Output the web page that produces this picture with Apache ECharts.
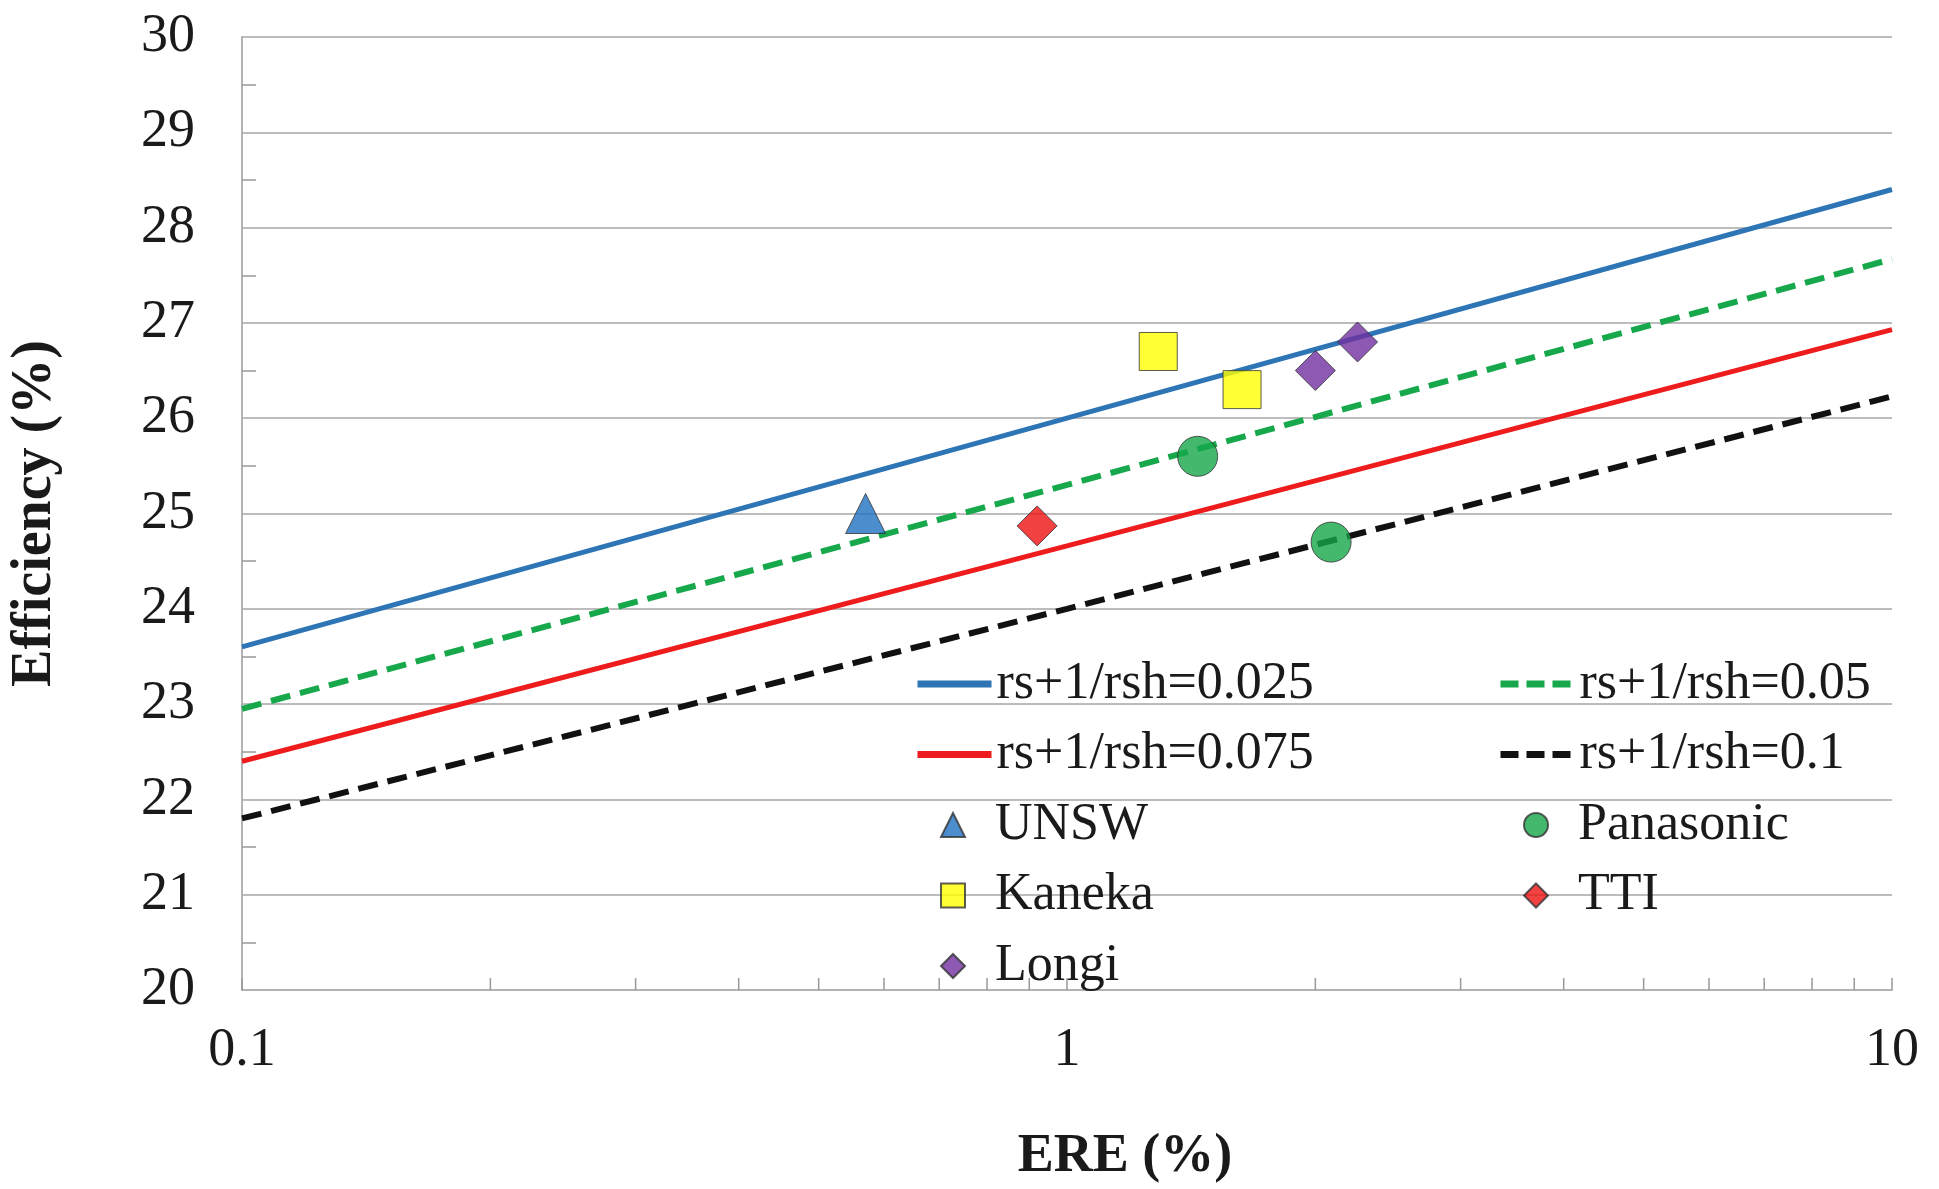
<!DOCTYPE html>
<html>
<head>
<meta charset="utf-8">
<title>Efficiency vs ERE</title>
<script src="https://cdn.jsdelivr.net/npm/echarts@6/dist/echarts.min.js"></script>
<style>
  html, body { margin: 0; padding: 0; background: #ffffff; }
  #chart { width: 1939px; height: 1189px; }
</style>
</head>
<body>
<div id="chart"></div>
<script>
// Modelled efficiency curves, sampled on the ERE grid (log scale)
const ereGrid = [0.1, 1, 10];
const eff025 = [23.6, 26.0, 28.4];
const eff050 = [22.95, 25.3, 27.67];
const eff075 = [22.4, 24.66, 26.93];
const eff100 = [21.8, 24.0, 26.23];

// Measured cells: [ERE %, efficiency %]
const unswERE = [0.57];         const unswEff = [25.0];
const kanekaERE = [1.29, 1.63]; const kanekaEff = [26.7, 26.3];
const longiERE = [2.0, 2.25];   const longiEff = [26.5, 26.8];
const panaERE = [1.44, 2.09];   const panaEff = [25.6, 24.7];
const ttiERE = [0.92];          const ttiEff = [24.87];

// Minor tick positions on the log ERE axis
const ereMinorTicks = [0.2, 0.3, 0.4, 0.5, 0.6, 0.7, 0.8, 0.9, 2, 3, 4, 5, 6, 7, 8, 9];

const FONT = 'Liberation Serif, Times New Roman, serif';
const zip = (xs, ys) => xs.map((x, i) => [x, ys[i]]);

const curve = (name, ys, color, width, dashed) => ({
  name, type: 'line', data: zip(ereGrid, ys), symbol: 'none', z: 3,
  lineStyle: { color, width, type: dashed ? [20, 10] : 'solid' },
  itemStyle: { color }
});
const points = (name, xs, ys, symbol, size, color) => ({
  name, type: 'scatter', data: zip(xs, ys), symbol, symbolSize: size, z: 5,
  itemStyle: { color, borderColor: '#333', borderWidth: 1 }
});

// legend entry for a curve: line only, no point symbol
const lineEntry = (name, dashed) => ({
  name, itemStyle: { opacity: 0 },
  lineStyle: { width: 7, type: dashed ? [18, 8] : 'solid', cap: 'butt' }
});

const legendText = { fontFamily: FONT, fontSize: 52, color: '#1a1a1a', lineHeight: 56 };
const markerText = Object.assign({}, legendText, { padding: [0, 0, 0, 25] });

const chart = echarts.init(document.getElementById('chart'), null, { renderer: 'canvas' });
chart.setOption({
  backgroundColor: '#ffffff',
  animation: false,
  textStyle: { fontFamily: FONT },
  grid: { left: 242, right: 47, top: 37, bottom: 199 },
  xAxis: {
    type: 'log', logBase: 10, min: 0.1, max: 10,
    name: 'ERE (%)', nameLocation: 'middle', nameGap: 140,
    nameTextStyle: { fontFamily: FONT, fontSize: 54, fontWeight: 'bold', color: '#1a1a1a', padding: [0, 0, 0, 116] },
    axisLine: { lineStyle: { color: '#b3b3b3', width: 2 } },
    axisTick: { show: true, inside: true, length: 12, lineStyle: { color: '#999', width: 1.5 } },
    axisLabel: { fontFamily: FONT, fontSize: 54, color: '#1a1a1a', margin: 34 },
    splitLine: { show: false },
    minorTick: { show: false }
  },
  yAxis: {
    type: 'value', min: 20, max: 30, interval: 1,
    name: 'Efficiency (%)', nameLocation: 'middle', nameGap: 178,
    nameTextStyle: { fontFamily: FONT, fontSize: 56, fontWeight: 'bold', color: '#1a1a1a' },
    axisLine: { show: true, lineStyle: { color: '#b3b3b3', width: 2 } },
    axisTick: { show: true, inside: true, length: 1, lineStyle: { color: '#a6a6a6', width: 1 } },
    minorTick: { show: true, splitNumber: 2, length: 14, lineStyle: { color: '#999', width: 1.5 } },
    axisLabel: { fontFamily: FONT, fontSize: 54, color: '#1a1a1a', margin: 47 },
    splitLine: { show: true, lineStyle: { color: '#a6a6a6', width: 1.5 } }
  },
  legend: [
    {
      orient: 'vertical', left: 909, top: 651, itemGap: 14.5,
      itemWidth: 74, itemHeight: 24, textStyle: legendText,
      data: [lineEntry('rs+1/rsh=0.025', false), lineEntry('rs+1/rsh=0.075', false)]
    },
    {
      orient: 'vertical', left: 1492, top: 651, itemGap: 14.5,
      itemWidth: 74, itemHeight: 24, textStyle: legendText,
      data: [lineEntry('rs+1/rsh=0.05', true), lineEntry('rs+1/rsh=0.1', true)]
    },
    {
      orient: 'vertical', left: 935, top: 792, itemGap: 14.5,
      itemWidth: 24, itemHeight: 24, textStyle: markerText,
      data: ['UNSW', 'Kaneka', 'Longi']
    },
    {
      orient: 'vertical', left: 1518, top: 792, itemGap: 14.5,
      itemWidth: 24, itemHeight: 24, textStyle: markerText,
      data: ['Panasonic', 'TTI']
    }
  ],
  series: [
    curve('rs+1/rsh=0.025', eff025, '#2e75b6', 5, false),
    curve('rs+1/rsh=0.05', eff050, '#18a84c', 6, true),
    curve('rs+1/rsh=0.075', eff075, '#ee1c1c', 5, false),
    curve('rs+1/rsh=0.1', eff100, '#111111', 6, true),
    points('UNSW', unswERE, unswEff, 'triangle', 40, '#1f72c0'),
    points('Panasonic', panaERE, panaEff, 'circle', 40, '#15a84a'),
    points('Kaneka', kanekaERE, kanekaEff, 'rect', 38, '#ffff00'),
    points('TTI', ttiERE, ttiEff, 'diamond', 40, '#ee1111'),
    points('Longi', longiERE, longiEff, 'diamond', 40, '#7030a0'),
    {
      // short upward ticks at the intermediate log positions
      name: 'minorTicks', type: 'custom', silent: true, z: 2,
      data: ereMinorTicks.map(v => [v, 20]),
      renderItem: (params, api) => {
        const p = api.coord([api.value(0), api.value(1)]);
        return {
          type: 'line',
          shape: { x1: p[0], y1: p[1], x2: p[0], y2: p[1] - 12 },
          style: { stroke: '#999', lineWidth: 1.5 }
        };
      }
    }
  ]
});
</script>
</body>
</html>
